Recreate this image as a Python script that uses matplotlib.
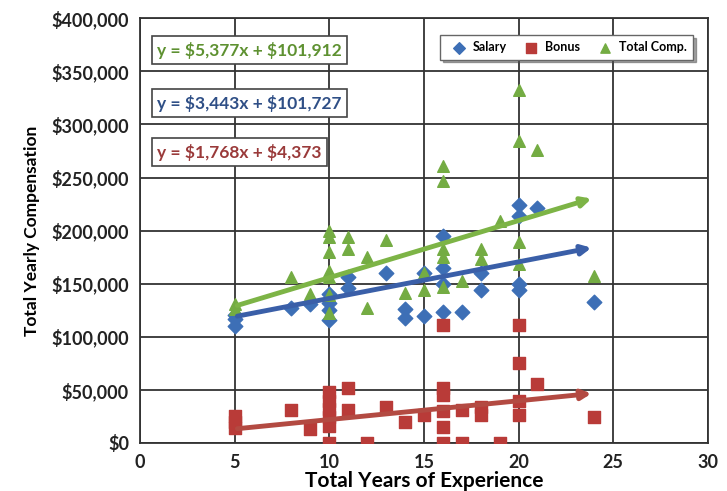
import matplotlib
matplotlib.use("Agg")
import matplotlib.pyplot as plt
import numpy as np
from matplotlib.ticker import FuncFormatter

plt.rcParams['font.family'] = ['Lato', 'DejaVu Sans']

# years of experience / compensation
salary_x = [5, 5, 5, 8, 9, 10, 10, 10, 10, 11, 11, 13, 14, 14, 15, 15,
            16, 16, 16, 16, 17, 18, 18, 20, 20, 20, 20, 21, 24]
salary_y = [110000, 117000, 121000, 127000, 131000, 116000, 125000, 132000, 140000,
            146000, 156000, 160000, 118000, 126000, 120000, 160000,
            123000, 150000, 165000, 195000, 123000, 144000, 160000,
            144000, 150000, 214000, 224000, 221000, 133000]

bonus_x = [5, 5, 5, 8, 9, 10, 10, 10, 10, 10, 10, 11, 11, 12, 13, 14, 15,
           16, 16, 16, 16, 16, 16, 17, 17, 18, 18, 19, 20, 20, 20, 20, 21, 24]
bonus_y = [14000, 20000, 25000, 31000, 13000, 0, 16000, 24000, 32000, 40000, 48000,
           31000, 52000, 0, 34000, 20000, 26000,
           0, 15000, 30000, 45000, 52000, 111000, 0, 31000, 26000, 34000, 0,
           26000, 40000, 75000, 111000, 56000, 24000]

total_x = [5, 5, 8, 9, 10, 10, 10, 10, 10, 10, 10, 11, 11, 12, 12, 13, 14, 15, 15,
           16, 16, 16, 16, 16, 17, 18, 18, 19, 20, 20, 20, 20, 21, 24]
total_y = [126000, 131000, 156000, 140000, 122000, 139000, 156000, 162000, 180000,
           194000, 200000, 183000, 194000, 127000, 175000, 191000, 141000, 144000,
           160000, 147000, 175000, 183000, 247000, 261000, 153000, 173000, 183000,
           209000, 169000, 189000, 284000, 332000, 276000, 157000]

# linear trend lines as printed on the chart (slope, intercept)
trend_total = (5377, 101912)
trend_salary = (3443, 101727)
trend_bonus = (1768, 4373)
trend_range = (5, 24)

blue = "#3d6fb6"
red = "#b93b38"
green = "#74ac43"

fig = plt.figure(figsize=(7.27, 4.91), dpi=100)
ax = fig.add_axes([0.1926, 0.0978, 0.781, 0.865])

ax.set_xlim(0, 30)
ax.set_ylim(0, 400000)
ax.set_xticks(np.arange(0, 31, 5))
ax.set_yticks(np.arange(0, 400001, 50000))
ax.grid(True, color="#333333", linewidth=1.3)
ax.set_axisbelow(True)
for s in ax.spines.values():
    s.set_color("#333333")
    s.set_linewidth(1.3)
ax.tick_params(length=0, labelsize=13, colors="#222222", pad=8)
for lab in ax.get_xticklabels() + ax.get_yticklabels():
    lab.set_fontweight("bold")
ax.yaxis.set_major_formatter(FuncFormatter(lambda v, p: "\\${:,.0f}".format(v)))

ax.scatter(salary_x, salary_y, marker="D", s=55, color=blue, zorder=3, label="Salary")
ax.scatter(bonus_x, bonus_y, marker="s", s=70, color=red, zorder=3, label="Bonus")
ax.scatter(total_x, total_y, marker="^", s=70, color=green, zorder=3, label="Total Comp.")

tx = np.array(trend_range)
for (m, b), c in [(trend_total, "#7db446"), (trend_salary, "#3a5fa8"), (trend_bonus, "#b34a42")]:
    ty = m * tx + b
    ax.annotate("", xy=(tx[1], ty[1]), xytext=(tx[0], ty[0]),
                arrowprops=dict(arrowstyle="-|>", color=c, lw=3.5, mutation_scale=14),
                zorder=4)

box = dict(boxstyle="square,pad=0.3", facecolor="white", edgecolor="#444444", linewidth=1.2)
ax.text(0.9, 370000, r"y = \$5,377x + \$101,912", color="#5e9131", fontsize=12.5,
        fontweight="bold", va="center", bbox=box, zorder=5)
ax.text(0.9, 320000, r"y = \$3,443x + \$101,727", color="#2f4f86", fontsize=12.5,
        fontweight="bold", va="center", bbox=box, zorder=5)
ax.text(0.9, 274000, r"y = \$1,768x + \$4,373", color="#9a3a3a", fontsize=12.5,
        fontweight="bold", va="center", bbox=box, zorder=5)

leg = ax.legend(loc="upper right", bbox_to_anchor=(0.985, 0.975), ncol=3, fontsize=9,
                frameon=True, fancybox=False, shadow=True, handletextpad=0.1,
                columnspacing=1.0, borderpad=0.5, markerscale=0.8)
leg.get_frame().set_edgecolor("#666666")
for t in leg.get_texts():
    t.set_fontweight("bold")

ax.set_xlabel("Total Years of Experience", fontsize=15, fontweight="bold", labelpad=0)
ax.set_ylabel("Total Yearly Compensation", fontsize=12.5, fontweight="bold", labelpad=8)

fig.savefig("out.png", dpi=100)
